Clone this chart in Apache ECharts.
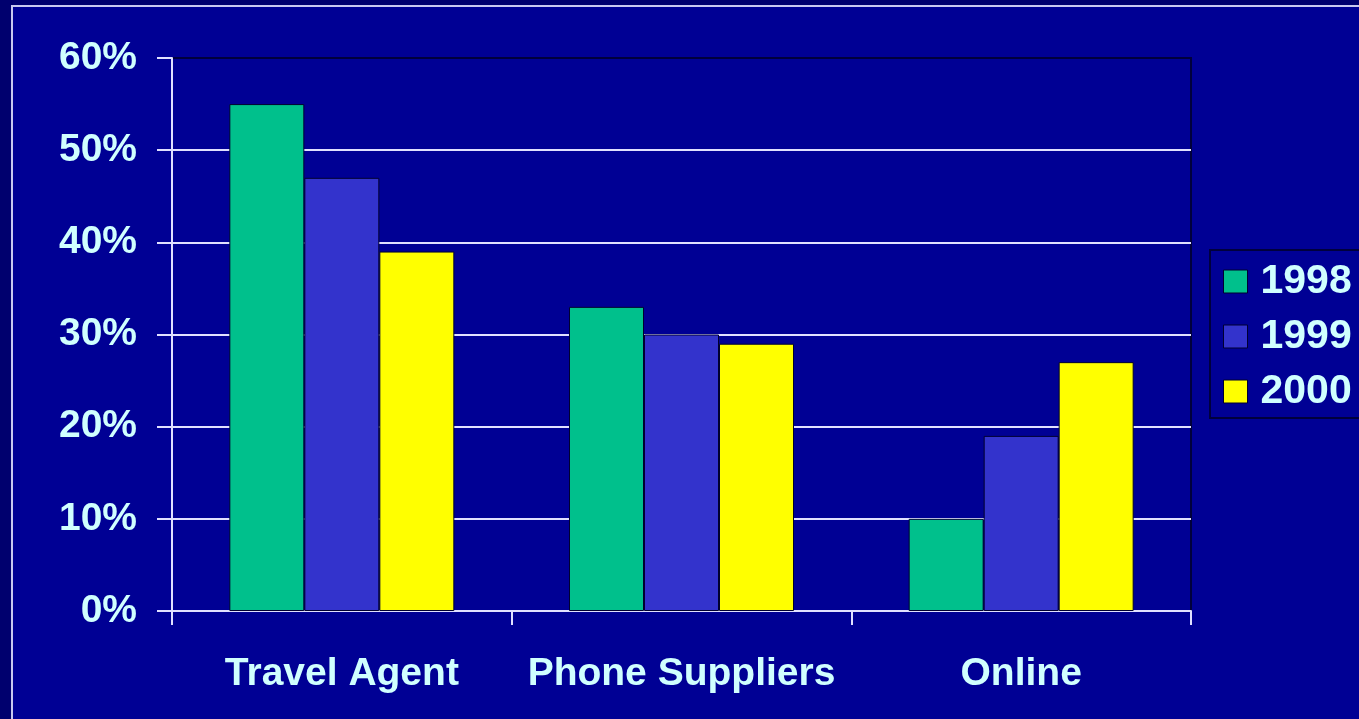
<!DOCTYPE html>
<html>
<head>
<meta charset="utf-8">
<script src="https://cdn.jsdelivr.net/npm/echarts@6/dist/echarts.min.js"></script>
<style>
html,body{margin:0;padding:0;background:#00006e;}
#c{width:1359px;height:719px;}
</style>
</head>
<body>
<div id="c"></div>
<script>
var categories = ['Travel Agent', 'Phone Suppliers', 'Online'];
var seriesNames = ['1998', '1999', '2000'];
var v1998 = [55, 33, 10];
var v1999 = [47, 30, 19];
var v2000 = [39, 29, 27];
var yTicks = [0, 10, 20, 30, 40, 50, 60];

var colors = ['#00c08c', '#3333cc', '#ffff00'];
var txt = '#d0ffff';
var font = '"Liberation Sans", Arial, sans-serif';

var chart = echarts.init(document.getElementById('c'));
var values = [v1998, v1999, v2000];
chart.setOption({
  backgroundColor: '#00006e',
  animation: false,
  graphic: [{
    type: 'rect', z: -10, silent: true,
    shape: {x: 12, y: 6, width: 1400, height: 800},
    style: {fill: '#000094', stroke: '#c8c8f0', lineWidth: 2}
  }],
  grid: {
    left: 172, right: 168, top: 58, bottom: 108,
    show: true, backgroundColor: 'transparent',
    borderColor: '#00003c', borderWidth: 2
  },
  legend: {
    orient: 'vertical', left: 1210, top: 250,
    padding: [11, 40, 6, 13],
    backgroundColor: '#000094', borderColor: '#00003c', borderWidth: 2,
    itemWidth: 24, itemHeight: 23, itemGap: 14,
    icon: 'rect',
    itemStyle: {borderColor: '#000030', borderWidth: 1},
    textStyle: {color: txt, fontFamily: font, fontWeight: 'bold', fontSize: 41, padding: [0, 0, 0, 8]},
    data: seriesNames
  },
  xAxis: {
    type: 'category', data: categories,
    axisLine: {lineStyle: {color: '#e0e0ff', width: 2}},
    axisTick: {show: true, interval: 0, length: 14, lineStyle: {color: '#e0e0ff', width: 2}},
    axisLabel: {interval: 0, color: txt, fontFamily: font, fontWeight: 'bold', fontSize: 39, margin: 44}
  },
  yAxis: {
    type: 'value', min: yTicks[0], max: yTicks[yTicks.length - 1], interval: 10,
    axisLine: {show: true, lineStyle: {color: '#e0e0ff', width: 2}},
    axisTick: {show: true, length: 15, lineStyle: {color: '#e0e0ff', width: 2}},
    axisLabel: {color: txt, fontFamily: font, fontWeight: 'bold', fontSize: 39, margin: 35, formatter: '{value}%'},
    splitLine: {show: true, showMaxLine: false, lineStyle: {color: '#e0e0ff', width: 2}}
  },
  series: seriesNames.map(function (n, i) {
    return {
      name: n, type: 'bar', data: values[i],
      barWidth: 75, barGap: '0%',
      itemStyle: {color: colors[i], borderColor: '#000030', borderWidth: 1}
    };
  })
});
</script>
</body>
</html>
